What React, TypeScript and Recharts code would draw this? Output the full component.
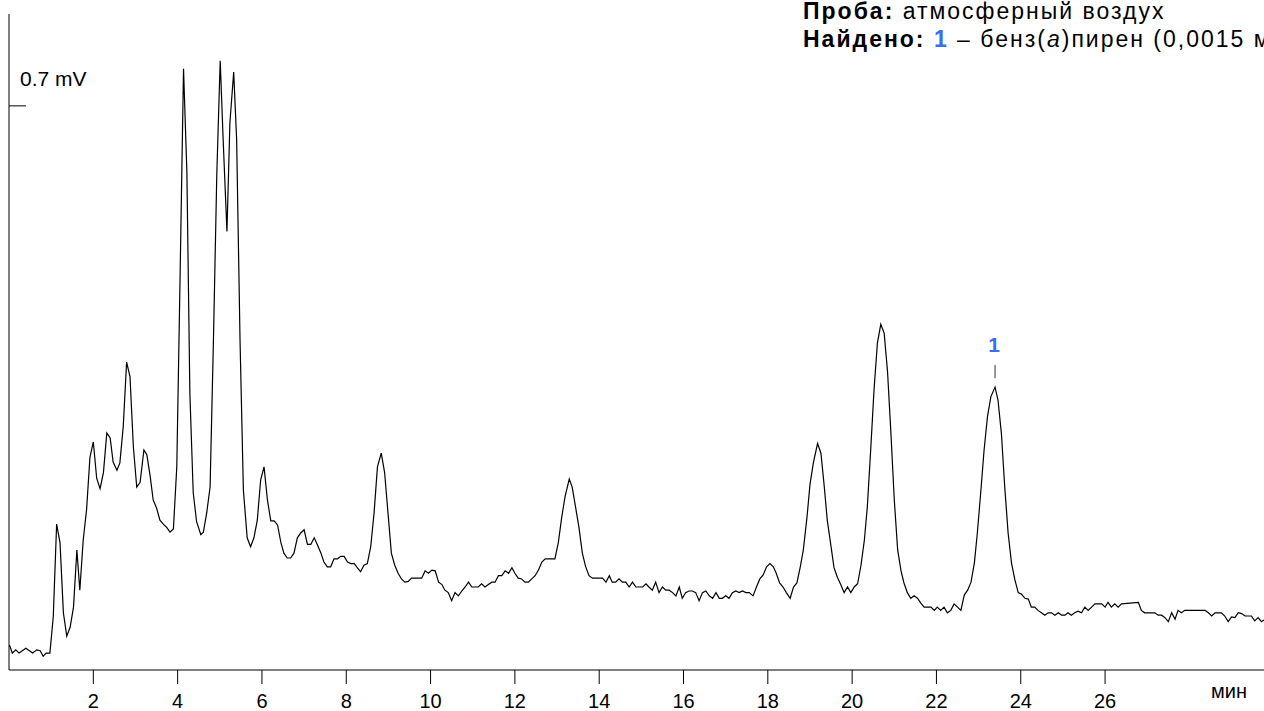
import React from 'react';
import {LineChart, Line, XAxis, YAxis, ReferenceDot} from 'recharts';

// retention time, min
const times = [
    0.01, 0.08, 0.16, 0.24, 0.40, 0.56, 0.66, 0.74, 0.81, 0.88,
    0.97, 1.05, 1.13, 1.21, 1.29, 1.37, 1.45, 1.53, 1.61, 1.68,
    1.76, 1.84, 1.92, 2.00, 2.08, 2.16, 2.24, 2.32, 2.40, 2.47,
    2.56, 2.63, 2.71, 2.79, 2.87, 2.95, 3.03, 3.11, 3.20, 3.27,
    3.35, 3.42, 3.50, 3.58, 3.66, 3.74, 3.82, 3.90, 3.98, 4.06,
    4.14, 4.22, 4.29, 4.37, 4.45, 4.55, 4.61, 4.69, 4.77, 4.85,
    4.93, 5.01, 5.08, 5.17, 5.24, 5.33, 5.40, 5.48, 5.56, 5.65,
    5.73, 5.81, 5.89, 5.97, 6.05, 6.13, 6.21, 6.29, 6.37, 6.45,
    6.52, 6.60, 6.68, 6.76, 6.84, 6.92, 7.00, 7.08, 7.16, 7.24,
    7.31, 7.40, 7.47, 7.55, 7.63, 7.71, 7.79, 7.87, 7.95, 8.03,
    8.11, 8.19, 8.26, 8.34, 8.42, 8.50, 8.58, 8.66, 8.74, 8.83,
    8.91, 8.99, 9.07, 9.15, 9.23, 9.31, 9.39, 9.47, 9.55, 9.79,
    9.87, 9.95, 10.03, 10.11, 10.19, 10.27, 10.34, 10.42, 10.50, 10.58,
    10.66, 10.74, 10.82, 10.90, 10.98, 11.13, 11.21, 11.29, 11.45, 11.53,
    11.61, 11.69, 11.77, 11.85, 11.93, 12.00, 12.08, 12.16, 12.24, 12.32,
    12.40, 12.48, 12.56, 12.64, 12.72, 12.95, 13.03, 13.11, 13.19, 13.29,
    13.36, 13.44, 13.52, 13.60, 13.68, 13.76, 13.84, 14.08, 14.16, 14.24,
    14.31, 14.39, 14.47, 14.55, 14.63, 14.71, 14.79, 14.87, 15.03, 15.11,
    15.18, 15.26, 15.34, 15.42, 15.50, 15.58, 15.66, 15.74, 15.82, 15.90,
    15.97, 16.05, 16.13, 16.21, 16.29, 16.37, 16.45, 16.53, 16.61, 16.69,
    16.77, 16.85, 16.92, 17.00, 17.08, 17.16, 17.24, 17.32, 17.40, 17.48,
    17.56, 17.65, 17.73, 17.81, 17.89, 17.97, 18.05, 18.13, 18.20, 18.28,
    18.36, 18.44, 18.53, 18.61, 18.69, 18.77, 18.84, 18.93, 19.00, 19.08,
    19.18, 19.26, 19.34, 19.41, 19.50, 19.57, 19.65, 19.73, 19.81, 19.89,
    19.97, 20.05, 20.13, 20.21, 20.29, 20.36, 20.44, 20.52, 20.60, 20.68,
    20.76, 20.84, 20.92, 21.00, 21.08, 21.16, 21.23, 21.31, 21.39, 21.47,
    21.55, 21.63, 21.71, 21.87, 21.95, 22.02, 22.10, 22.18, 22.26, 22.34,
    22.42, 22.50, 22.58, 22.66, 22.74, 22.82, 22.90, 22.97, 23.05, 23.13,
    23.21, 23.29, 23.39, 23.46, 23.54, 23.62, 23.70, 23.78, 23.86, 23.94,
    24.02, 24.10, 24.18, 24.25, 24.33, 24.41, 24.49, 24.57, 24.65, 24.73,
    24.81, 24.89, 24.97, 25.05, 25.12, 25.20, 25.28, 25.36, 25.44, 25.52,
    25.60, 25.68, 25.76, 25.92, 26.00, 26.07, 26.15, 26.23, 26.31, 26.39,
    26.79, 26.86, 26.94, 27.18, 27.26, 27.34, 27.42, 27.50, 27.58, 27.66,
    27.73, 27.81, 27.89, 28.37, 28.45, 28.53, 28.61, 28.76, 28.84, 28.92,
    29.00, 29.08, 29.16, 29.24, 29.32, 29.47, 29.55, 29.63, 29.71, 29.77,
];

// detector signal, mV
const signal = [
    0.031, 0.021, 0.025, 0.021, 0.027, 0.021, 0.025, 0.024, 0.017, 0.021,
    0.021, 0.066, 0.181, 0.158, 0.071, 0.042, 0.053, 0.078, 0.149, 0.099,
    0.161, 0.199, 0.264, 0.283, 0.238, 0.225, 0.245, 0.294, 0.288, 0.258,
    0.248, 0.257, 0.302, 0.382, 0.364, 0.277, 0.227, 0.233, 0.273, 0.267,
    0.240, 0.211, 0.201, 0.186, 0.181, 0.177, 0.171, 0.175, 0.252, 0.493,
    0.746, 0.617, 0.344, 0.220, 0.184, 0.168, 0.171, 0.195, 0.227, 0.410,
    0.617, 0.756, 0.658, 0.544, 0.679, 0.742, 0.658, 0.410, 0.223, 0.164,
    0.153, 0.164, 0.186, 0.236, 0.252, 0.211, 0.185, 0.185, 0.180, 0.158,
    0.145, 0.139, 0.139, 0.145, 0.164, 0.170, 0.174, 0.156, 0.156, 0.164,
    0.156, 0.145, 0.134, 0.128, 0.128, 0.138, 0.138, 0.141, 0.141, 0.134,
    0.132, 0.132, 0.127, 0.122, 0.130, 0.132, 0.153, 0.195, 0.252, 0.269,
    0.245, 0.195, 0.145, 0.130, 0.120, 0.113, 0.109, 0.110, 0.114, 0.114,
    0.123, 0.120, 0.124, 0.123, 0.109, 0.106, 0.099, 0.096, 0.086, 0.096,
    0.092, 0.098, 0.103, 0.109, 0.103, 0.103, 0.107, 0.103, 0.109, 0.109,
    0.117, 0.117, 0.123, 0.120, 0.127, 0.120, 0.114, 0.113, 0.109, 0.109,
    0.113, 0.117, 0.124, 0.134, 0.138, 0.138, 0.158, 0.189, 0.215, 0.237,
    0.227, 0.202, 0.177, 0.145, 0.128, 0.117, 0.114, 0.114, 0.109, 0.117,
    0.109, 0.109, 0.113, 0.109, 0.109, 0.103, 0.109, 0.103, 0.103, 0.107,
    0.103, 0.099, 0.109, 0.096, 0.103, 0.099, 0.099, 0.096, 0.092, 0.103,
    0.089, 0.096, 0.098, 0.098, 0.096, 0.086, 0.096, 0.098, 0.092, 0.089,
    0.096, 0.089, 0.089, 0.092, 0.089, 0.096, 0.098, 0.096, 0.098, 0.096,
    0.096, 0.092, 0.103, 0.113, 0.118, 0.128, 0.132, 0.128, 0.120, 0.108,
    0.103, 0.096, 0.089, 0.103, 0.108, 0.128, 0.148, 0.190, 0.230, 0.257,
    0.281, 0.269, 0.227, 0.186, 0.153, 0.127, 0.115, 0.106, 0.096, 0.103,
    0.096, 0.103, 0.107, 0.130, 0.161, 0.202, 0.273, 0.348, 0.406, 0.429,
    0.418, 0.370, 0.294, 0.211, 0.149, 0.123, 0.108, 0.096, 0.089, 0.092,
    0.089, 0.083, 0.078, 0.078, 0.074, 0.078, 0.074, 0.078, 0.071, 0.074,
    0.082, 0.078, 0.074, 0.093, 0.099, 0.109, 0.133, 0.170, 0.220, 0.273,
    0.314, 0.339, 0.351, 0.335, 0.294, 0.227, 0.170, 0.133, 0.112, 0.096,
    0.094, 0.089, 0.088, 0.078, 0.078, 0.074, 0.071, 0.068, 0.071, 0.071,
    0.068, 0.071, 0.068, 0.068, 0.071, 0.068, 0.071, 0.073, 0.071, 0.078,
    0.074, 0.078, 0.082, 0.082, 0.078, 0.084, 0.078, 0.082, 0.078, 0.082,
    0.084, 0.074, 0.071, 0.071, 0.068, 0.068, 0.065, 0.060, 0.071, 0.063,
    0.074, 0.071, 0.074, 0.074, 0.071, 0.067, 0.071, 0.071, 0.067, 0.060,
    0.066, 0.065, 0.071, 0.070, 0.067, 0.067, 0.061, 0.065, 0.060, 0.062,
];

const xTicks = [2, 4, 6, 8, 10, 12, 14, 16, 18, 20, 22, 24, 26];
const yTicks = [0.7];

// identified peaks
const peakTimes = [23.39];
const peakHeights = [0.351];
const peakNames = ['1'];

const FONT = '"Liberation Sans", Arial, sans-serif';
const BLUE = '#3a6df0';

const data = times.map((t, i) => ({t, mv: signal[i]}));

const YTick = (props: any) => {
    const {x, y, payload} = props;
    return (
        <text x={x} y={y} dx={-8} dy={-20} textAnchor="start" fontSize={21}
              fontFamily={FONT} fill="#000">
            {payload.value} mV
        </text>
    );
};

const PeakMark = (props: any) => {
    const {cx, cy, name} = props;
    return (
        <g>
            <line x1={cx} y1={cy - 22} x2={cx} y2={cy - 9} stroke="#333" strokeWidth={1}/>
            <text x={cx - 1} y={cy - 35} textAnchor="middle" fontSize={21} fontWeight="bold"
                  fontFamily={FONT} fill={BLUE}>
                {name}
            </text>
        </g>
    );
};

export default function App() {
    return (
        <div style={{position: 'absolute', left: 0, top: 0, width: 1264, height: 711,
            overflow: 'hidden', background: '#fff', fontFamily: FONT}}>
            <LineChart width={1264} height={711} data={data}
                       margin={{top: 14, right: 0, bottom: 0, left: 9}}>
                <XAxis dataKey="t" type="number" domain={[0, 29.77]} ticks={xTicks}
                       allowDataOverflow height={41} tickSize={14} tickMargin={10}
                       axisLine={{stroke: '#000'}} tickLine={{stroke: '#000'}}
                       tick={{fontSize: 20, fill: '#000', fontFamily: FONT}}
                       label={{value: 'мин', position: 'insideRight', offset: 17,
                           fontSize: 20, fill: '#000', fontFamily: FONT}}/>
                <YAxis type="number" domain={[0, 0.814]} ticks={yTicks} mirror
                       allowDataOverflow tickSize={17}
                       axisLine={{stroke: '#000'}} tickLine={{stroke: '#000'}}
                       tick={<YTick/>}/>
                <Line type="linear" dataKey="mv" stroke="#000" strokeWidth={1.2}
                      dot={false} activeDot={false} isAnimationActive={false}/>
                {peakTimes.map((t, i) => (
                    <ReferenceDot key={i} x={t} y={peakHeights[i]} ifOverflow="visible"
                                  shape={(p: any) => <PeakMark {...p} name={peakNames[i]}/>}/>
                ))}
            </LineChart>
            <div style={{position: 'absolute', left: 803, top: -3, fontSize: 23,
                lineHeight: '28px', letterSpacing: '2px', whiteSpace: 'nowrap', color: '#000'}}>
                <div><b>Проба:</b> атмосферный воздух</div>
                <div><b>Найдено: <span style={{color: BLUE}}>1</span></b> – бенз(<i>а</i>)пирен (0,0015 мкг/м³)</div>
            </div>
        </div>
    );
}
